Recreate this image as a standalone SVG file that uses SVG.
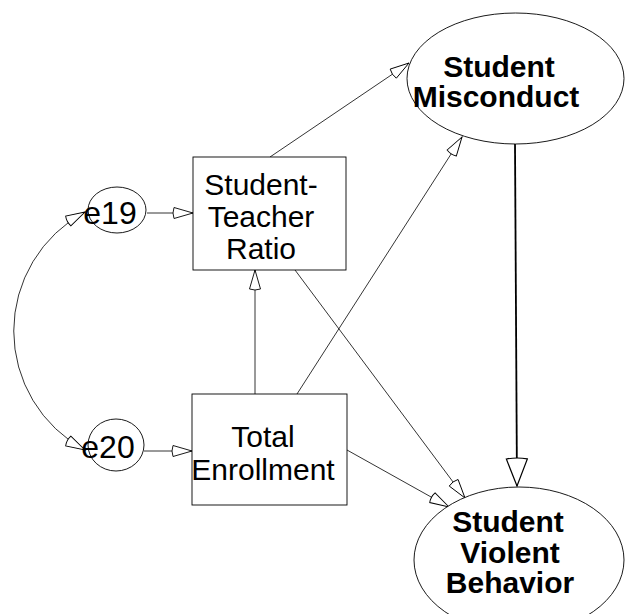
<svg xmlns="http://www.w3.org/2000/svg" width="625" height="614" viewBox="0 0 625 614">
  <style>
    .shape { fill: #fff; stroke: #000; stroke-width: 0.9; }
    .lbl { font-family: "Liberation Sans", Arial, sans-serif; font-size: 30px; fill: #000; text-anchor: middle; }
    .err { font-size: 32px; }
    .bold { font-weight: bold; }
    .path { fill: none; stroke: #000; stroke-width: 0.8; }
    .heavy { fill: none; stroke: #000; stroke-width: 1.8; }
  </style>
  <defs>
    <!-- open cone-shaped arrowhead -->
    <marker id="head" viewBox="0 0 24 16" markerWidth="24" markerHeight="16" refX="22" refY="8" orient="auto-start-reverse" markerUnits="userSpaceOnUse">
      <path d="M22,8 L3,2.5 Q1,8 3,13.5 Z" fill="#fff" stroke="#000" stroke-width="0.9"/>
    </marker>
    <marker id="headBig" viewBox="0 0 30 24" markerWidth="30" markerHeight="24" refX="29" refY="12" orient="auto" markerUnits="userSpaceOnUse">
      <path d="M29,12 L2,1.5 Q0,12 2,22.5 Z" fill="#fff" stroke="#000" stroke-width="1.2"/>
    </marker>
  </defs>

  <g id="connectors">
    <path class="path" d="M85,212 A135,135 0 0,0 85,450" marker-start="url(#head)" marker-end="url(#head)"/>
    <line class="path" x1="147" y1="213" x2="193" y2="213" marker-end="url(#head)"/>
    <line class="path" x1="144" y1="451" x2="192" y2="451" marker-end="url(#head)"/>
    <line class="path" x1="270" y1="157" x2="409" y2="63" marker-end="url(#head)"/>
    <line class="path" x1="297" y1="394" x2="462" y2="137" marker-end="url(#head)"/>
    <line class="path" x1="255" y1="394" x2="255" y2="270" marker-end="url(#head)"/>
    <line class="path" x1="295" y1="270" x2="465" y2="498" marker-end="url(#head)"/>
    <line class="path" x1="347" y1="450" x2="449" y2="507" marker-end="url(#head)"/>
    <line class="heavy" x1="515" y1="144" x2="517" y2="486" marker-end="url(#headBig)"/>
  </g>

  <g id="e19">
    <ellipse class="shape" cx="117" cy="210" rx="29" ry="23"/>
    <text class="lbl err" x="110" y="224">e19</text>
  </g>

  <g id="e20">
    <ellipse class="shape" cx="116" cy="445" rx="28" ry="26"/>
    <text class="lbl err" x="108" y="458">e20</text>
  </g>

  <g id="student-teacher-ratio">
    <rect class="shape" x="193" y="157" width="153" height="113"/>
    <text class="lbl" x="261" y="195">Student-</text>
    <text class="lbl" x="261" y="227">Teacher</text>
    <text class="lbl" x="261" y="259">Ratio</text>
  </g>

  <g id="total-enrollment">
    <rect class="shape" x="192" y="394" width="155" height="111"/>
    <text class="lbl" x="263" y="447">Total</text>
    <text class="lbl" x="263" y="480">Enrollment</text>
  </g>

  <g id="student-misconduct">
    <ellipse class="shape" cx="515.5" cy="78.5" rx="108.5" ry="65.5"/>
    <text class="lbl bold" x="499" y="77">Student</text>
    <text class="lbl bold" x="496" y="107">Misconduct</text>
  </g>

  <g id="student-violent-behavior">
    <ellipse class="shape" cx="519" cy="560" rx="105" ry="73"/>
    <text class="lbl bold" x="508" y="532">Student</text>
    <text class="lbl bold" x="510" y="563">Violent</text>
    <text class="lbl bold" x="510" y="593">Behavior</text>
  </g>
</svg>
